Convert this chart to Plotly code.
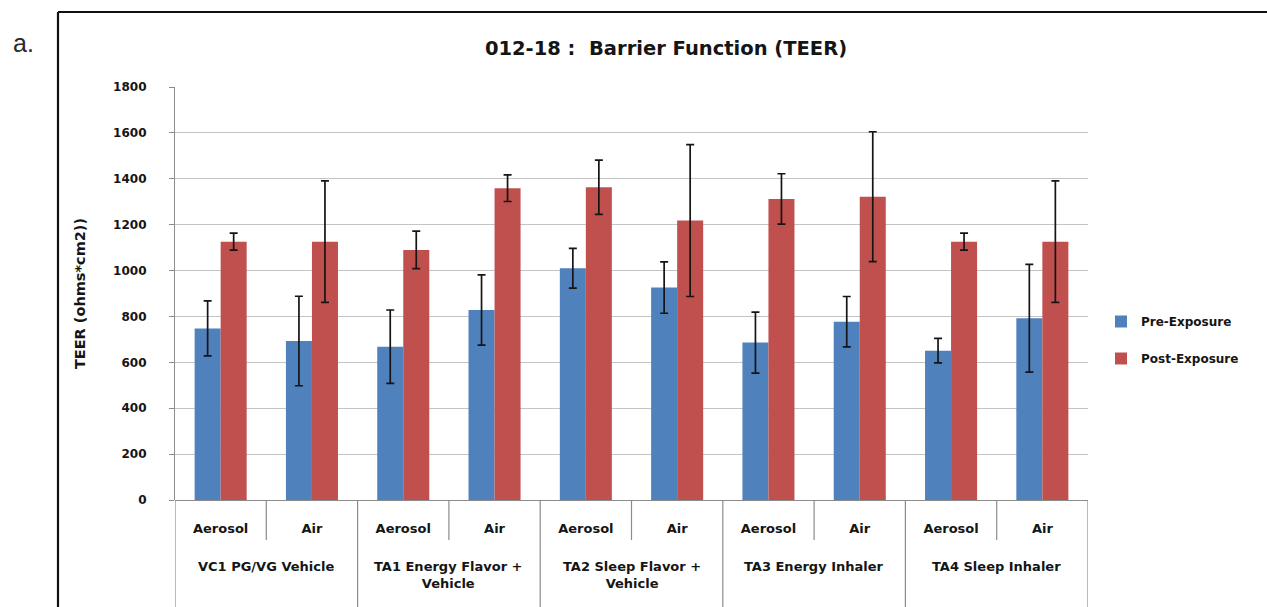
import plotly.graph_objects as go

# Treatment groups and exposure conditions
groups = ["VC1 PG/VG Vehicle", "TA1 Energy Flavor +<br>Vehicle", "TA2 Sleep Flavor +<br>Vehicle",
          "TA3 Energy Inhaler", "TA4 Sleep Inhaler"]
conditions = ["Aerosol", "Air"]

# TEER means and standard deviations (ohms*cm2), in group/condition order
pre_mean = [748, 693, 668, 828, 1010, 926, 686, 777, 651, 792]
pre_err = [120, 195, 160, 153, 87, 112, 133, 110, 53, 235]
post_mean = [1126, 1126, 1090, 1359, 1363, 1218, 1312, 1322, 1126, 1126]
post_err = [37, 265, 82, 58, 118, 331, 110, 283, 37, 265]

y_ticks = [0, 200, 400, 600, 800, 1000, 1200, 1400, 1600, 1800]

n_cond = len(conditions)
n_bars = len(groups) * n_cond
xpos = list(range(n_bars))
cond_labels = [c for _ in groups for c in conditions]

BLUE = "#4F81BD"
RED = "#C0504D"
FONT = "DejaVu Sans"
INK = "#151515"
AXIS = "#8C8C8C"

# plot-area geometry in pixels
W, H = 1267, 607
L, R, T, B = 175, 179, 87, 107
PW, PH = W - L - R, H - T - B


def py(pix):
    """paper y for a pixel row"""
    return (H - B - pix) / PH


def px(pix):
    """paper x for a pixel column"""
    return (pix - L) / PW


fig = go.Figure()
fig.add_trace(go.Bar(
    x=xpos, y=pre_mean, name="<b>Pre-Exposure</b>",
    marker=dict(color=BLUE, line=dict(width=0)),
    error_y=dict(type="data", array=pre_err, visible=True, color=INK, thickness=1.7, width=4),
    legendgroup="pre",
))
fig.add_trace(go.Bar(
    x=xpos, y=post_mean, name="<b>Post-Exposure</b>",
    marker=dict(color=RED, line=dict(width=0)),
    error_y=dict(type="data", array=post_err, visible=True, color=INK, thickness=1.7, width=4),
    legendgroup="post",
))

fig.update_layout(
    width=W, height=H,
    margin=dict(l=L, r=R, t=T, b=B),
    paper_bgcolor="white", plot_bgcolor="white",
    barmode="group", bargap=0.43, bargroupgap=0,
    font=dict(family=FONT, size=13, color=INK),
    title=dict(text="<b>012-18 :  Barrier Function (TEER)</b>", x=px(666), xref="paper",
               y=1 - 48 / H, yref="container", xanchor="center", yanchor="middle",
               font=dict(family=FONT, size=19.5, color=INK)),
    legend=dict(x=px(1101), y=py(307), xanchor="left", yanchor="top",
                font=dict(family=FONT, size=12, color=INK),
                tracegroupgap=18, itemwidth=30, traceorder="grouped"),
    showlegend=True,
)

fig.update_yaxes(
    range=[0, 1800], tickvals=y_ticks, ticktext=["<b>%d</b>" % v for v in y_ticks],
    showgrid=True, gridcolor="#C4C4C4", gridwidth=1.2,
    showline=True, linecolor=AXIS, linewidth=1.2,
    ticks="outside", ticklen=5, tickcolor=AXIS,
    ticklabelstandoff=20,
    tickfont=dict(family=FONT, size=12, color=INK),
    title=dict(text="<b>TEER (ohms*cm2))</b>", font=dict(family=FONT, size=14.5, color=INK),
               standoff=24),
    zeroline=True, zerolinecolor=AXIS, zerolinewidth=1.2, automargin=False,
)

# condition labels under each bar
fig.update_xaxes(
    range=[-0.5, n_bars - 0.5], tickvals=xpos, ticktext=["<b>%s</b>" % c for c in cond_labels],
    showgrid=False, zeroline=False, automargin=False,
    showline=False, ticks="", ticklabelstandoff=19,
    tickfont=dict(family=FONT, size=13, color=INK),
)

# short separators between conditions, full-height dividers between groups
for k in range(n_bars + 1):
    at_group_edge = k % n_cond == 0
    fig.add_shape(type="line", xref="x", yref="paper",
                  x0=k - 0.5, x1=k - 0.5, y0=0, y1=py(H) if at_group_edge else py(540),
                  line=dict(color=AXIS, width=1.2))

# group names sit below the condition row
for i, g in enumerate(groups):
    fig.add_annotation(text="<b>%s</b>" % g, xref="x", yref="paper",
                       x=i * n_cond + (n_cond - 1) / 2, y=py(557), showarrow=False,
                       xanchor="center", yanchor="top", align="center",
                       font=dict(family=FONT, size=13, color=INK))

# Panel frame (top and left edges) and panel letter
fig.add_shape(type="line", xref="paper", yref="paper",
              x0=px(58), x1=px(W), y0=py(12), y1=py(12),
              line=dict(color="#111111", width=2.2))
fig.add_shape(type="line", xref="paper", yref="paper",
              x0=px(58), x1=px(58), y0=py(12), y1=py(H),
              line=dict(color="#111111", width=2.2))
fig.add_annotation(text="a.", xref="paper", yref="paper",
                   x=px(23), y=py(43), showarrow=False,
                   xanchor="center", yanchor="middle",
                   font=dict(family="Liberation Sans", size=25, color="#2a2a2a"))

fig.write_html("out.html")
